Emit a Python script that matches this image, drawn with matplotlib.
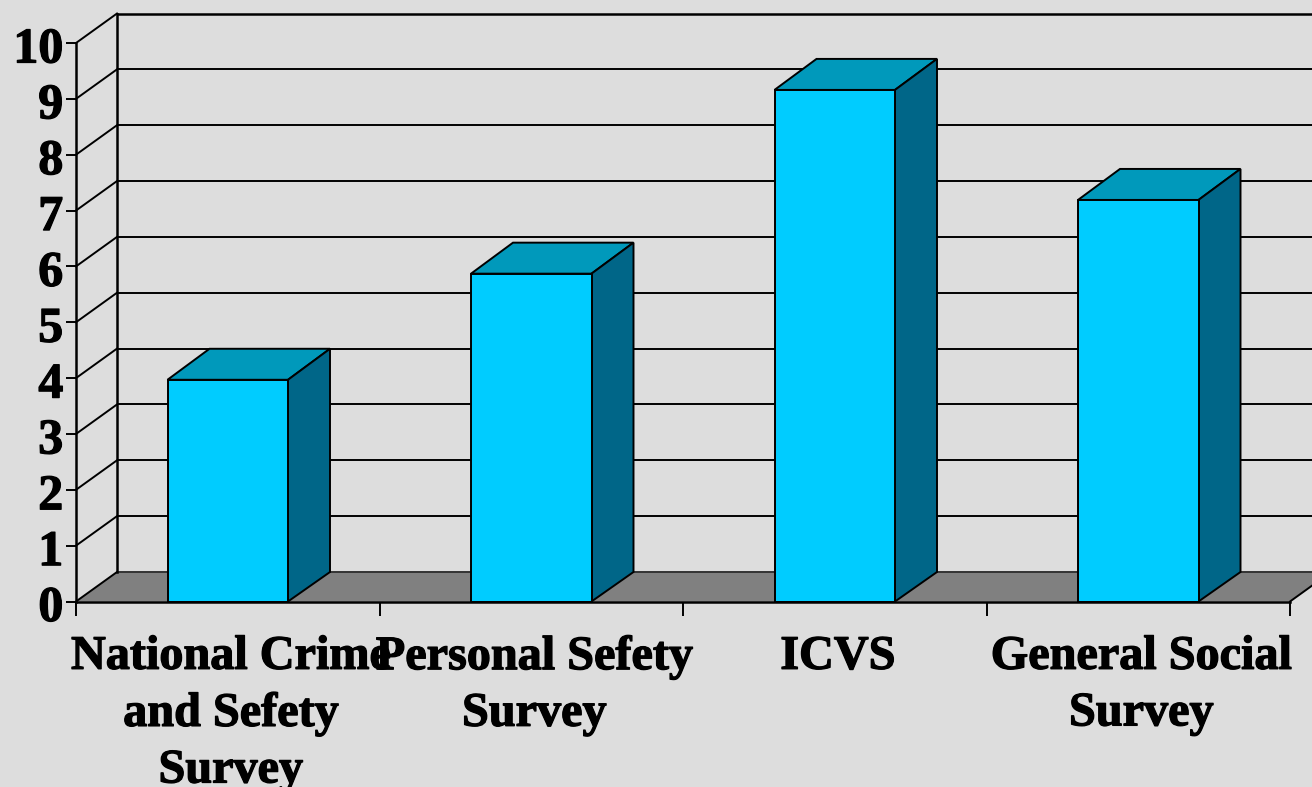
import matplotlib
matplotlib.use("Agg")
import matplotlib.pyplot as plt
from matplotlib.patches import Polygon
from matplotlib.transforms import ScaledTranslation
import matplotlib.patheffects as pe

categories = ["National Crime\nand Sefety\nSurvey", "Personal Sefety\nSurvey", "ICVS", "General Social\nSurvey"]
values = [3.97, 5.87, 9.16, 7.19]
y_ticks = list(range(0, 11))

W, H = 1312, 787
BG, FRONT, TOP, SIDE, FLOOR = "#DDDDDD", "#00CCFF", "#0099BB", "#006688", "#808080"
DX = 41 / 303.5     # wall depth in category units
DY = 29.5 / 55.85   # wall depth in value units
BDX = 42 / 303.5    # bar depth
BDY = 31 / 55.85
BAR_W = 120.5 / 303.5
LW = 1.4

plt.rcParams["font.family"] = ["Liberation Serif"]
plt.rcParams["font.weight"] = "bold"
fig = plt.figure(figsize=(W / 100, H / 100), dpi=100, facecolor=BG)
ax = fig.add_axes([76 / W, 1 - 601.5 / H, (1290 - 76) / W, (601.5 - 43) / H])
ax.set_facecolor("none")
ax.set_xlim(0, 4)
ax.set_ylim(0, 10)
n = len(categories)

# floor
ax.add_patch(Polygon([(0, 0), (n, 0), (n + DX, DY), (DX, DY)], closed=True, fc=FLOOR, ec="none", clip_on=False, zorder=1))
# back wall gridlines and side-wall obliques
for v in y_ticks:
    ax.plot([DX, n + DX], [v + DY, v + DY], color="#333333" if v == 0 else "black", lw=1.8 if v == 10 else LW, clip_on=False, zorder=2, solid_capstyle="butt")
    ax.plot([0, DX], [v, v + DY], color="black", lw=LW, clip_on=False, zorder=2)
ax.plot([DX, DX], [DY, 10 + DY], color="black", lw=1.8, clip_on=False, zorder=2)
ax.plot([n, n + DX], [0, DY], color="black", lw=LW, clip_on=False, zorder=2)

# bars
xs = [i + 0.5 for i in range(n)]
ax.bar(xs, values, width=BAR_W, color=FRONT, edgecolor="black", linewidth=LW, zorder=5, clip_on=False)
for x, v in zip(xs, values):
    l, r = x - BAR_W / 2, x + BAR_W / 2
    ax.add_patch(Polygon([(l, v), (r, v), (r + BDX, v + BDY), (l + BDX, v + BDY)], closed=True, fc=TOP, ec="black", lw=LW, zorder=4, clip_on=False))
    ax.add_patch(Polygon([(r, 0), (r + BDX, DY), (r + BDX, v + BDY), (r, v)], closed=True, fc=SIDE, ec="black", lw=LW, zorder=4, clip_on=False))

# axes
for s in ("top", "right"):
    ax.spines[s].set_visible(False)
for s in ("left", "bottom"):
    ax.spines[s].set_linewidth(1.8)
    ax.spines[s].set_zorder(6)
ax.set_yticks(y_ticks)
ax.set_yticklabels([str(v) for v in y_ticks], fontsize=36, fontweight="bold")
ax.tick_params(axis="y", length=7.2, width=LW, pad=2)
ax.set_xticks(range(n + 1))
ax.set_xticklabels([])
ax.tick_params(axis="x", which="major", length=10, width=LW, direction="out")
ax.set_xticks(xs, minor=True)
ax.set_xticklabels(categories, minor=True, fontsize=34.7, fontweight="bold", linespacing=1.37)
ax.tick_params(axis="x", which="minor", length=0, pad=24)
stroke = [pe.withStroke(linewidth=0.9, foreground="black")]
for lab in ax.get_xticklabels(minor=True):
    lab.set_transform(lab.get_transform() + ScaledTranslation(3 / 100, 0, fig.dpi_scale_trans))
    lab.set_path_effects(stroke)
for lab in ax.get_yticklabels():
    lab.set_transform(lab.get_transform() + ScaledTranslation(0, -2 / 100, fig.dpi_scale_trans))
    lab.set_path_effects(stroke)

fig.savefig("out.png", dpi=100, facecolor=BG)
